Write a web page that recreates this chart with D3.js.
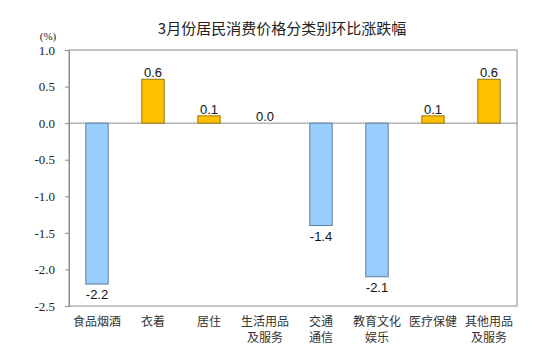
<!DOCTYPE html>
<html>
<head>
<meta charset="utf-8">
<script src="https://cdn.jsdelivr.net/npm/d3@7/dist/d3.min.js"></script>
<style>
body { margin:0; background:#fff; }
</style>
</head>
<body>
<div class="visualisation"></div>
<script>
var categories = [["食品烟酒"], ["衣着"], ["居住"], ["生活用品", "及服务"], ["交通", "通信"], ["教育文化", "娱乐"], ["医疗保健"], ["其他用品", "及服务"]];
var values = [-2.2, 0.6, 0.1, 0.0, -1.4, -2.1, 0.1, 0.6];
var yTicks = [1.0, 0.5, 0.0, -0.5, -1.0, -1.5, -2.0, -2.5];

var margin = {top:50, right:43, bottom:57, left:69},
	width = 560 - margin.left - margin.right,
	height = 363 - margin.top - margin.bottom;

var svg = d3.select(".visualisation").append("svg")
    .attr("width", 560)
    .attr("height", 363)
  .append("g")
    .attr("transform", "translate(" + margin.left + "," + margin.top + ")");

var x = d3.scaleBand()
    .domain(d3.range(categories.length))
    .range([0, width])
    .paddingInner(0.6)
    .paddingOuter(0.3);

var y = d3.scaleLinear().domain([-2.5, 1.0]).range([height, 0]);

// title
svg.append("text")
    .attr("x", 282 - margin.left)
    .attr("y", 34 - margin.top)
    .attr("text-anchor", "middle")
    .style("font-family", "'Noto Sans CJK SC', sans-serif")
    .style("font-size", "15px")
    .style("fill", "#222")
    .text("3月份居民消费价格分类别环比涨跌幅");

svg.append("text")
    .attr("x", 48 - margin.left)
    .attr("y", 40 - margin.top)
    .attr("text-anchor", "middle")
    .style("font-family", "'Liberation Serif', serif")
    .style("font-size", "11px")
    .style("fill", "#222")
    .text("(%)");

// frame
svg.append("rect")
    .attr("width", width)
    .attr("height", height)
    .attr("fill", "none")
    .attr("stroke", "#8c8c8c")
    .attr("stroke-width", 1);

var yAxis = svg.append("g")
    .attr("class", "y-axis")
    .call(d3.axisLeft(y).tickValues(yTicks).tickFormat(d3.format(".1f")).tickSizeInner(4).tickSizeOuter(0).tickPadding(10));
yAxis.select(".domain").attr("stroke", "#8c8c8c");
yAxis.selectAll(".tick line").attr("stroke", "#8c8c8c");
yAxis.selectAll(".tick text")
    .style("font-family", "'Liberation Serif', serif")
    .style("font-size", "13px")
    .style("fill", "#222")
    .text(function(d){ return d3.format(".1f")(d).replace("−", "-"); });

// zero line
svg.append("line")
    .attr("x1", 0).attr("x2", width)
    .attr("y1", y(0)).attr("y2", y(0))
    .attr("stroke", "#8c8c8c");

svg.selectAll(".bar")
    .data(values)
  .enter().append("rect")
    .attr("class", "bar")
    .attr("x", function(d, i){ return x(i); })
    .attr("width", x.bandwidth())
    .attr("y", function(d){ return y(Math.max(0, d)); })
    .attr("height", function(d){ return Math.abs(y(d) - y(0)); })
    .attr("fill", function(d){ return d < 0 ? "#99ccff" : "#ffc000"; })
    .attr("stroke", function(d){ return d < 0 ? "#5f7f9f" : "#9a7a10"; })
    .attr("stroke-width", function(d){ return d === 0 ? 0 : 1; });

svg.selectAll(".val")
    .data(values)
  .enter().append("text")
    .attr("class", "val")
    .attr("x", function(d, i){ return x(i) + x.bandwidth() / 2; })
    .attr("y", function(d){ return d < 0 ? y(d) + 15 : y(d) - 2; })
    .attr("text-anchor", "middle")
    .style("font-family", "'Liberation Sans', Arial, sans-serif")
    .style("font-size", "13px")
    .style("fill", "#111")
    .text(function(d){ return d3.format(".1f")(d).replace("−", "-"); });

var labels = svg.selectAll(".cat")
    .data(categories)
  .enter().append("text")
    .attr("class", "cat")
    .attr("text-anchor", "middle")
    .style("font-family", "'Noto Sans CJK SC', sans-serif")
    .style("font-size", "12px")
    .style("fill", "#333");

labels.selectAll("tspan")
    .data(function(d, i){ return d.map(function(s){ return {s:s, i:i}; }); })
  .enter().append("tspan")
    .attr("x", function(d){ return x(d.i) + x.bandwidth() / 2; })
    .attr("y", function(d, j){ return height + 20 + j * 16; })
    .text(function(d){ return d.s; });
</script>
</body>
</html>
